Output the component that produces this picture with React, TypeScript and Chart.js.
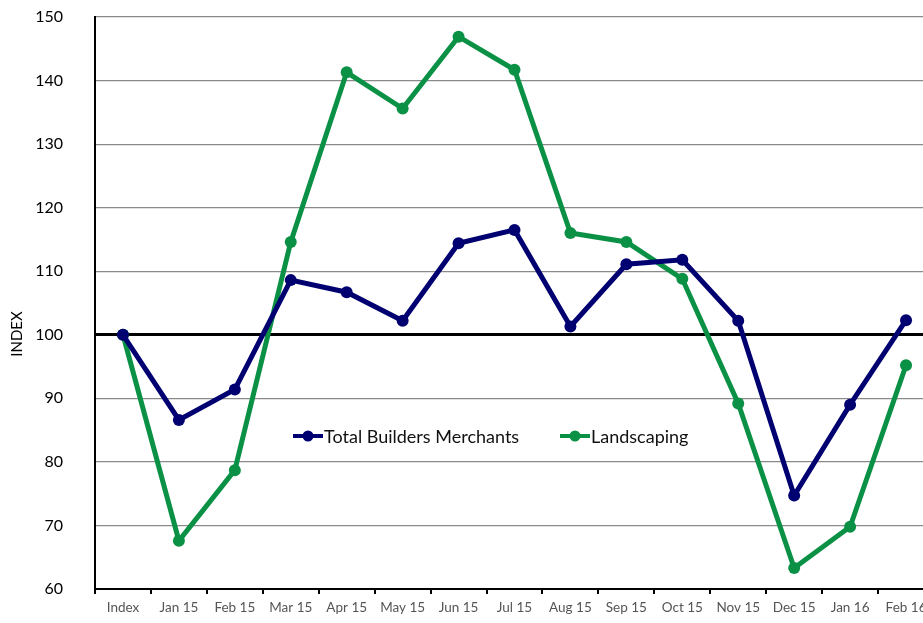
import React, { useEffect, useRef } from "react";
import { Chart, registerables } from "chart.js";

Chart.register(...registerables);

const categories = [
  "Index", "Jan 15", "Feb 15", "Mar 15", "Apr 15", "May 15", "Jun 15", "Jul 15",
  "Aug 15", "Sep 15", "Oct 15", "Nov 15", "Dec 15", "Jan 16", "Feb 16",
];
const totalBuildersMerchants = [100, 86.6, 91.4, 108.6, 106.7, 102.2, 114.4, 116.5, 101.3, 111.1, 111.8, 102.2, 74.7, 89.0, 102.3];
const landscaping = [100, 67.6, 78.7, 114.6, 141.3, 135.6, 146.9, 141.7, 116.0, 114.6, 108.8, 89.2, 63.3, 69.8, 95.2];
const seriesNames = ["Total Builders Merchants", "Landscaping"];
const seriesColors = ["#000070", "#0b9145"];
const yTitle = "INDEX";

const FONT = "Lato, 'Open Sans', sans-serif";

const overlay = {
  id: "overlay",
  afterDraw(chart: any) {
    const ctx = chart.ctx;
    ctx.save();
    ctx.translate(17, 334);
    ctx.rotate(-Math.PI / 2);
    ctx.fillStyle = "#000";
    ctx.font = `15px ${FONT}`;
    ctx.textAlign = "center";
    ctx.textBaseline = "middle";
    ctx.fillText(yTitle, 0, 0);
    ctx.restore();

    ctx.save();
    ctx.font = `18px ${FONT}`;
    ctx.textBaseline = "middle";
    ctx.textAlign = "left";
    const items = [
      { x: 293, name: seriesNames[0], color: seriesColors[0] },
      { x: 560, name: seriesNames[1], color: seriesColors[1] },
    ];
    const y = 436;
    for (const it of items) {
      ctx.strokeStyle = it.color;
      ctx.lineWidth = 4;
      ctx.beginPath();
      ctx.moveTo(it.x, y);
      ctx.lineTo(it.x + 30, y);
      ctx.stroke();
      ctx.fillStyle = it.color;
      ctx.beginPath();
      ctx.arc(it.x + 15, y, 5.5, 0, Math.PI * 2);
      ctx.fill();
      ctx.fillStyle = "#111";
      ctx.fillText(it.name, it.x + 31, y + 1);
    }
    ctx.restore();
  },
};

export default function App() {
  const ref = useRef<HTMLCanvasElement>(null);
  useEffect(() => {
    if (!ref.current) return;
    const chart = new Chart(ref.current, {
      type: "line",
      data: {
        labels: categories,
        datasets: [
          {
            label: seriesNames[0],
            data: totalBuildersMerchants,
            borderColor: seriesColors[0],
            backgroundColor: seriesColors[0],
            borderWidth: 5,
            pointRadius: 6,
            pointBorderWidth: 0,
            tension: 0,
          },
          {
            label: seriesNames[1],
            data: landscaping,
            borderColor: seriesColors[1],
            backgroundColor: seriesColors[1],
            borderWidth: 5,
            pointRadius: 6,
            pointBorderWidth: 0,
            tension: 0,
          },
        ],
      },
      options: {
        animation: false,
        responsive: false,
        layout: { padding: { top: 17, right: 5, left: 0, bottom: 0 } },
        plugins: { legend: { display: false }, tooltip: { enabled: false } },
        scales: {
          x: {
            offset: true,
            afterFit: (s: any) => { s.height = 34; s.paddingLeft = 0; s.paddingRight = 0; },
            border: { color: "#000", width: 2 },
            grid: {
              offset: true,
              drawOnChartArea: false,
              drawTicks: true,
              tickLength: 5,
              color: "#000",
              lineWidth: 2,
            },
            ticks: {
              color: "#555",
              font: { family: FONT, size: 13.5 },
              padding: 6,
              maxRotation: 0,
              autoSkip: false,
            },
          },
          y: {
            min: 60,
            max: 150,
            afterFit: (s: any) => { s.width = 95; s.paddingTop = 0; s.paddingBottom = 0; },
            border: { color: "#000", width: 2 },
            grid: {
              drawTicks: false,
              color: (c: any) => (c.tick && c.tick.value === 100 ? "#000" : "#8a8a8a"),
              lineWidth: (c: any) => (c.tick && c.tick.value === 100 ? 3 : 1.2),
            },
            ticks: {
              stepSize: 10,
              color: "#000",
              padding: 32,
              font: { family: FONT, size: 16 },
            },
          },
        },
      },
      plugins: [overlay],
    });
    return () => chart.destroy();
  }, []);
  return (
    <div style={{ position: "absolute", left: 0, top: 0, width: 923, height: 623, overflow: "hidden", background: "#fff" }}>
      <canvas ref={ref} width={940} height={623} style={{ display: "block" }} />
    </div>
  );
}
